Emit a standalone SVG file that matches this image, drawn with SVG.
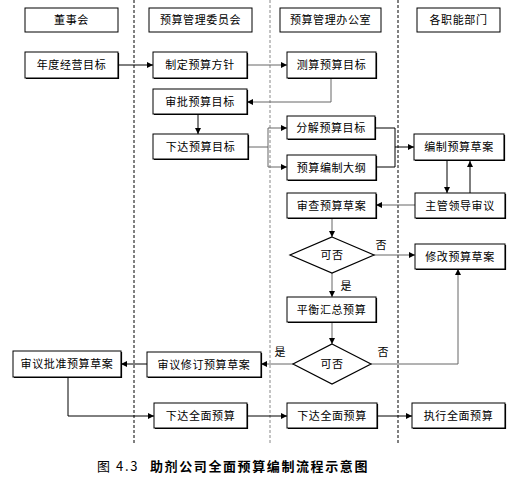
<svg xmlns="http://www.w3.org/2000/svg" width="517" height="477" viewBox="0 0 517 477">
<style>
.bx{fill:#fff;stroke:#000;stroke-width:1}
.sh{fill:none;stroke:#000;stroke-width:1.2}
.t{font-family:"Noto Sans CJK SC","Noto Sans",sans-serif;font-size:11px;letter-spacing:0.6px;text-anchor:middle;fill:#000}
.lb{font-family:"Noto Sans CJK SC","Noto Sans",sans-serif;font-size:11px;text-anchor:middle;fill:#000}
.k{fill:none;stroke:#000;stroke-width:1}
.g{fill:none;stroke:#666;stroke-width:1}
.dm{fill:#fff;stroke:#000;stroke-width:1.2}
.cap{font-family:"Noto Sans CJK SC","Noto Sans",sans-serif;font-size:13px;letter-spacing:1.6px;fill:#000}
</style>
<defs>
<marker id="a" markerUnits="userSpaceOnUse" markerWidth="6" markerHeight="6" refX="6" refY="3" orient="auto">
<path d="M0,0 L6,3 L0,6 z" fill="#000"/>
</marker>
</defs>
<rect width="517" height="477" fill="#fff"/>
<g id="lanes">
<line x1="134" y1="0" x2="134" y2="443" stroke="#000" stroke-dasharray="3,2"/>
<line x1="270" y1="0" x2="270" y2="443" stroke="#888" stroke-dasharray="3,2"/>
<line x1="398" y1="0" x2="398" y2="443" stroke="#000" stroke-dasharray="3,2"/>
</g>
<g id="connectors">
<path class="k" d="M118,65 H153" marker-end="url(#a)"/>
<path class="g" d="M247,65 H287" marker-end="url(#a)"/>
<path class="g" d="M331,78 V102 H247" marker-end="url(#a)"/>
<path class="k" d="M198,114 V134" marker-end="url(#a)"/>
<path class="g" d="M248,147 H268 M268,128 V167"/>
<path class="g" d="M268,128 H287" marker-end="url(#a)"/>
<path class="g" d="M268,167 H287" marker-end="url(#a)"/>
<path class="k" d="M375,128 H395 V167 H376"/>
<path class="k" d="M395,147 H414" marker-end="url(#a)"/>
<path class="k" d="M447,161 V193" marker-end="url(#a)"/>
<path class="k" d="M470,193 V161" marker-end="url(#a)"/>
<path class="g" d="M415,205 H376" marker-end="url(#a)"/>
<path class="g" d="M332,218 V237" marker-end="url(#a)"/>
<path class="g" d="M374,255 H415" marker-end="url(#a)"/>
<path class="g" d="M332,273 V297" marker-end="url(#a)"/>
<path class="g" d="M332,322 V344" marker-end="url(#a)"/>
<path class="g" d="M371,364 H458 V269" marker-end="url(#a)"/>
<path class="g" d="M293,364 H261" marker-end="url(#a)"/>
<path class="k" d="M147,364 H121" marker-end="url(#a)"/>
<path class="k" d="M68,377 V416 H154" marker-end="url(#a)"/>
<path class="k" d="M248,416 H287" marker-end="url(#a)"/>
<path class="k" d="M378,416 H412" marker-end="url(#a)"/>
<text class="lb" x="381" y="249">否</text>
<text class="lb" x="346" y="290">是</text>
<text class="lb" x="383" y="356">否</text>
<text class="lb" x="280" y="356">是</text>
</g>
<g id="h1"><rect class="bx" x="25" y="8" width="93" height="24"/><text class="t" x="71.5" y="24">董事会</text></g>
<g id="h2"><rect class="bx" x="149" y="8" width="103" height="24"/><text class="t" x="200.5" y="24">预算管理委员会</text></g>
<g id="h3"><rect class="bx" x="280" y="8" width="101" height="24"/><text class="t" x="330.5" y="24">预算管理办公室</text></g>
<g id="h4"><rect class="bx" x="417" y="8" width="83" height="24"/><text class="t" x="458.5" y="24">各职能部门</text></g>
<g id="n1"><rect class="bx" x="25" y="52" width="93" height="26"/><path class="sh" d="M118.5,53 V78.5 H26"/><text class="t" x="71.5" y="69">年度经营目标</text></g>
<g id="n2"><rect class="bx" x="153" y="52" width="94" height="26"/><path class="sh" d="M247.5,53 V78.5 H154"/><text class="t" x="200" y="69">制定预算方针</text></g>
<g id="n3"><rect class="bx" x="287" y="52" width="89" height="26"/><path class="sh" d="M376.5,53 V78.5 H288"/><text class="t" x="331.5" y="69">测算预算目标</text></g>
<g id="n4"><rect class="bx" x="153" y="89" width="94" height="25"/><path class="sh" d="M247.5,90 V114.5 H154"/><text class="t" x="200" y="105.5">审批预算目标</text></g>
<g id="n5"><rect class="bx" x="153" y="134" width="95" height="25"/><path class="sh" d="M248.5,135 V159.5 H154"/><text class="t" x="200.5" y="150.5">下达预算目标</text></g>
<g id="n6"><rect class="bx" x="287" y="116" width="88" height="23"/><path class="sh" d="M375.5,117 V139.5 H288"/><text class="t" x="331" y="131.5">分解预算目标</text></g>
<g id="n7"><rect class="bx" x="287" y="155" width="89" height="25"/><path class="sh" d="M376.5,156 V180.5 H288"/><text class="t" x="331.5" y="171.5">预算编制大纲</text></g>
<g id="n8"><rect class="bx" x="414" y="134" width="90" height="26"/><path class="sh" d="M504.5,135 V160.5 H415"/><text class="t" x="459" y="151">编制预算草案</text></g>
<g id="n9"><rect class="bx" x="415" y="193" width="90" height="25"/><path class="sh" d="M505.5,194 V218.5 H416"/><text class="t" x="460" y="209.5">主管领导审议</text></g>
<g id="n10"><rect class="bx" x="287" y="193" width="89" height="25"/><path class="sh" d="M376.5,194 V218.5 H288"/><text class="t" x="331.5" y="209.5">审查预算草案</text></g>
<g id="d1"><path class="dm" d="M332,237 L374,255 L332,273 L290,255 Z"/><text class="t" x="332" y="259">可否</text></g>
<g id="n11"><rect class="bx" x="415" y="244" width="90" height="25"/><path class="sh" d="M505.5,245 V269.5 H416"/><text class="t" x="460" y="260.5">修改预算草案</text></g>
<g id="n12"><rect class="bx" x="287" y="297" width="89" height="25"/><path class="sh" d="M376.5,298 V322.5 H288"/><text class="t" x="331.5" y="313.5">平衡汇总预算</text></g>
<g id="d2"><path class="dm" d="M332,344 L371,364 L332,384 L293,364 Z"/><text class="t" x="332" y="368">可否</text></g>
<g id="n13"><rect class="bx" x="147" y="352" width="114" height="25"/><path class="sh" d="M261.5,353 V377.5 H148"/><text class="t" x="204" y="368.5">审议修订预算草案</text></g>
<g id="n14"><rect class="bx" x="13" y="351" width="108" height="26" stroke-width="1.5"/><path class="sh" d="M121.5,352 V377.5 H14"/><text class="t" x="67" y="368">审议批准预算草案</text></g>
<g id="n15"><rect class="bx" x="154" y="403" width="93" height="25"/><path class="sh" d="M247.5,404 V428.5 H155"/><text class="t" x="200.5" y="419.5">下达全面预算</text></g>
<g id="n16"><rect class="bx" x="287" y="403" width="90" height="25"/><path class="sh" d="M377.5,404 V428.5 H288"/><text class="t" x="332" y="419.5">下达全面预算</text></g>
<g id="n17"><rect class="bx" x="412" y="403" width="93" height="25"/><path class="sh" d="M505.5,404 V428.5 H413"/><text class="t" x="458.5" y="419.5">执行全面预算</text></g>
<g id="caption">
<text class="cap" x="97" y="471">图 4.3</text>
<text class="cap" x="150" y="471" font-weight="bold">助剂公司全面预算编制流程示意图</text>
</g>
</svg>
